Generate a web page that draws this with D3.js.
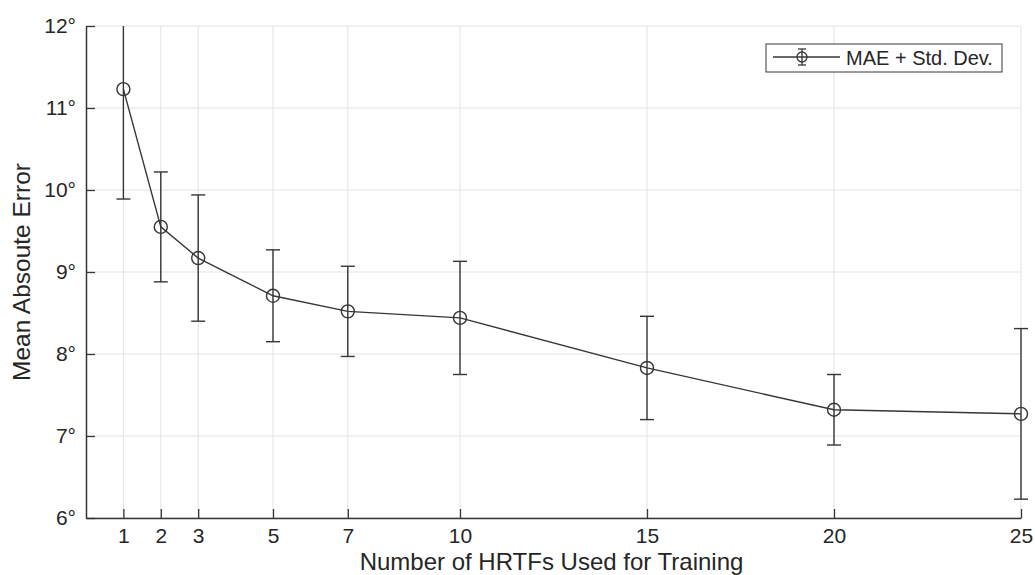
<!DOCTYPE html>
<html lang="en">
<head>
    <meta charset="UTF-8">
    <title>MAE vs number of HRTFs</title>
    <script src="https://cdn.jsdelivr.net/npm/d3@7"></script>
    <style>
        body { margin: 0; background: #fff; }
        text { font-family: "Liberation Sans", Arial, sans-serif; fill: #262626; }
    </style>
</head>
<body>
<div id="chart"></div>
<script>
    // data
    const numHRTFs = [1, 2, 3, 5, 7, 10, 15, 20, 25];
    const maeMean = [11.23, 9.55, 9.17, 8.71, 8.52, 8.44, 7.83, 7.32, 7.27];
    const maeStd = [1.34, 0.67, 0.77, 0.56, 0.55, 0.69, 0.63, 0.43, 1.04];
    const yTicks = [6, 7, 8, 9, 10, 11, 12];

    const data = numHRTFs.map((n, i) => ({ n: n, m: maeMean[i], s: maeStd[i] }));

    const W = 1035, H = 575;
    const margin = { top: 26, right: 14, bottom: 57, left: 86 };
    const width = W - margin.left - margin.right,
        height = H - margin.top - margin.bottom;

    const ink = "#363636";

    const svg = d3.select("#chart").append("svg")
        .attr("width", W)
        .attr("height", H);

    // clip only top/bottom, caps at the right edge stay visible
    svg.append("defs").append("clipPath").attr("id", "clip")
        .append("rect").attr("x", -20).attr("width", width + 40).attr("height", height + 1);

    const g = svg.append("g")
        .attr("transform", `translate(${margin.left},${margin.top})`);

    const x = d3.scaleLinear().domain([0, 25]).range([0, width]);
    const y = d3.scaleLinear().domain([6, 12]).range([height, 0]);

    // grid
    g.append("g").selectAll("line").data(numHRTFs).enter().append("line")
        .attr("x1", d => x(d)).attr("x2", d => x(d))
        .attr("y1", 0).attr("y2", height)
        .attr("stroke", "#e3e3e3").attr("stroke-width", 1);
    g.append("g").selectAll("line").data(yTicks).enter().append("line")
        .attr("x1", 0).attr("x2", width)
        .attr("y1", d => y(d)).attr("y2", d => y(d))
        .attr("stroke", "#e3e3e3").attr("stroke-width", 1);

    // axes, ticks pointing inward
    const xAxis = g.append("g")
        .attr("transform", `translate(0,${height})`)
        .call(d3.axisBottom(x).tickValues(numHRTFs).tickSizeInner(-9).tickSizeOuter(0).tickPadding(20));
    const yAxis = g.append("g")
        .call(d3.axisLeft(y).tickValues(yTicks).tickSizeInner(-9).tickSizeOuter(0).tickPadding(20)
            .tickFormat(d => d + "°"));

    [xAxis, yAxis].forEach(a => {
        a.select(".domain").attr("stroke", ink).attr("stroke-width", 1.5);
        a.selectAll(".tick line").attr("stroke", ink).attr("stroke-width", 1.3);
        a.selectAll(".tick text")
            .style("font-family", "'Liberation Sans', Arial, sans-serif")
            .style("font-size", "21px").attr("fill", "#262626");
    });
    xAxis.selectAll(".tick text").attr("dy", "0.71em").attr("y", 10);
    yAxis.selectAll(".tick text").attr("x", -10);

    // error bars
    const plot = g.append("g").attr("clip-path", "url(#clip)");
    const capW = 7;
    const bars = plot.selectAll(".err").data(data).enter().append("g").attr("class", "err")
        .attr("stroke", ink).attr("stroke-width", 1.4).attr("fill", "none");
    bars.append("line")
        .attr("x1", d => x(d.n)).attr("x2", d => x(d.n))
        .attr("y1", d => y(d.m - d.s)).attr("y2", d => y(d.m + d.s));
    bars.append("line")
        .attr("x1", d => x(d.n) - capW).attr("x2", d => x(d.n) + capW)
        .attr("y1", d => y(d.m - d.s)).attr("y2", d => y(d.m - d.s));
    bars.append("line")
        .attr("x1", d => x(d.n) - capW).attr("x2", d => x(d.n) + capW)
        .attr("y1", d => y(d.m + d.s)).attr("y2", d => y(d.m + d.s));

    // mean line + circles
    plot.append("path").datum(data)
        .attr("fill", "none").attr("stroke", ink).attr("stroke-width", 1.4)
        .attr("d", d3.line().x(d => x(d.n)).y(d => y(d.m)));
    plot.selectAll(".pt").data(data).enter().append("circle").attr("class", "pt")
        .attr("cx", d => x(d.n)).attr("cy", d => y(d.m)).attr("r", 6.5)
        .attr("fill", "none").attr("stroke", ink).attr("stroke-width", 1.4);

    // axis titles
    g.append("text")
        .attr("x", width / 2 - 2).attr("y", height + 52)
        .attr("text-anchor", "middle").style("font-size", "24px")
        .text("Number of HRTFs Used for Training");
    g.append("text")
        .attr("transform", `translate(${-margin.left + 30},${height / 2}) rotate(-90)`)
        .attr("text-anchor", "middle").style("font-size", "24.5px")
        .text("Mean Absoute Error");

    // legend
    const lg = svg.append("g").attr("transform", "translate(766,44)");
    lg.append("rect").attr("width", 236).attr("height", 28)
        .attr("fill", "#fff").attr("stroke", ink).attr("stroke-width", 1);
    lg.append("line").attr("x1", 7).attr("x2", 74).attr("y1", 13).attr("y2", 13)
        .attr("stroke", ink).attr("stroke-width", 1.3);
    lg.append("line").attr("x1", 36).attr("x2", 36).attr("y1", 5).attr("y2", 21)
        .attr("stroke", ink).attr("stroke-width", 1.3);
    lg.append("line").attr("x1", 32).attr("x2", 40).attr("y1", 5).attr("y2", 5)
        .attr("stroke", ink).attr("stroke-width", 1.3);
    lg.append("line").attr("x1", 32).attr("x2", 40).attr("y1", 21).attr("y2", 21)
        .attr("stroke", ink).attr("stroke-width", 1.3);
    lg.append("circle").attr("cx", 36).attr("cy", 13).attr("r", 5)
        .attr("fill", "none").attr("stroke", ink).attr("stroke-width", 1.3);
    lg.append("text").attr("x", 80).attr("y", 21).style("font-size", "20px")
        .text("MAE + Std. Dev.");
</script>
</body>
</html>
